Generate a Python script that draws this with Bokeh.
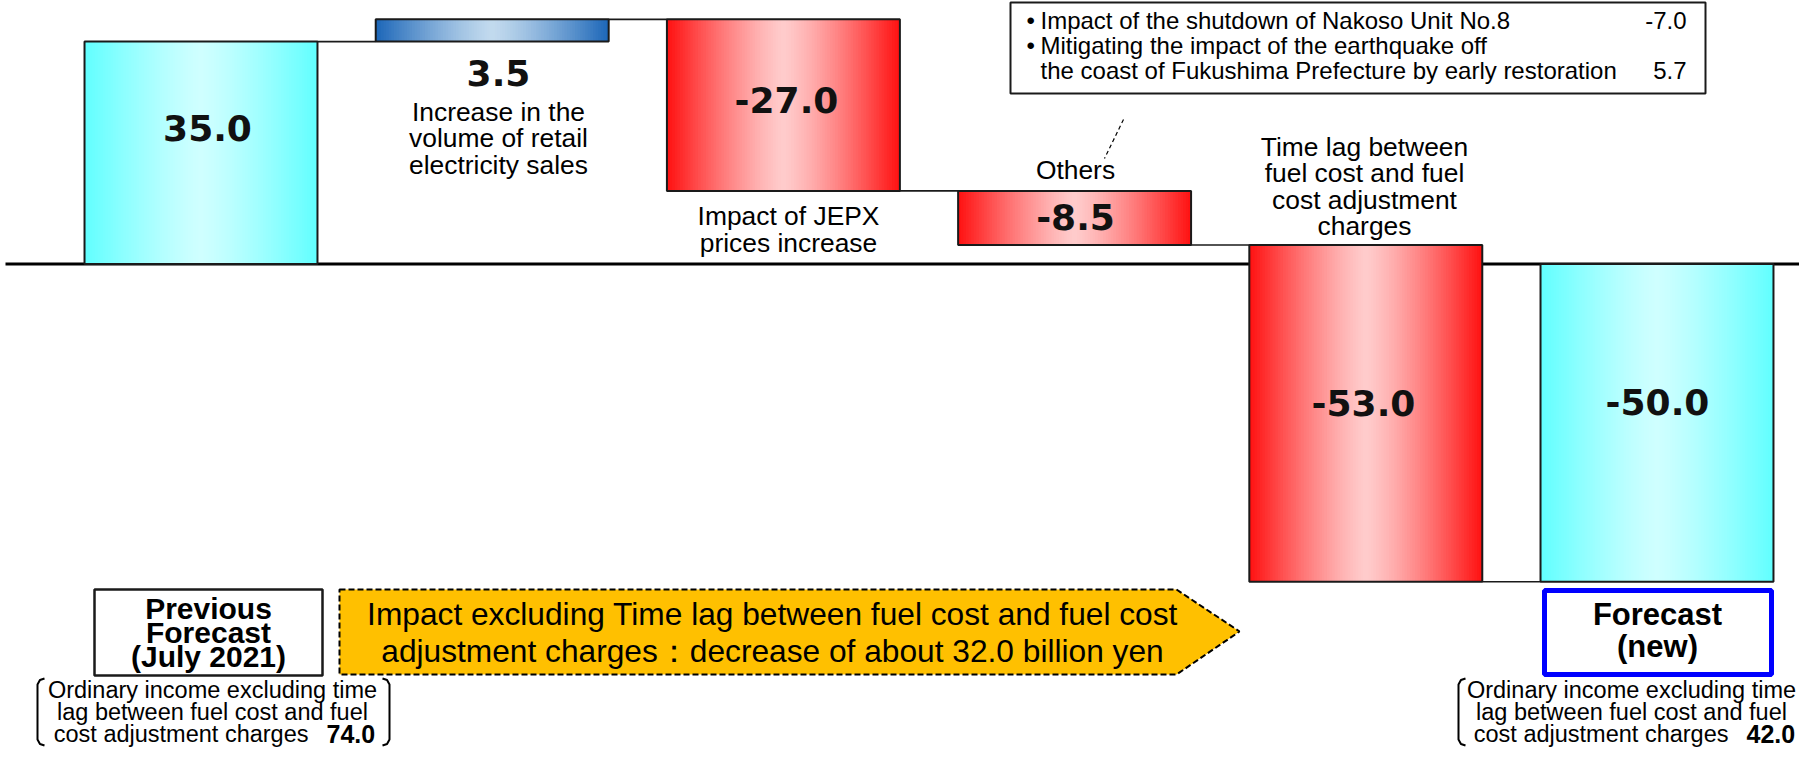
import numpy as np
from bokeh.plotting import figure
from bokeh.models import Range1d
from bokeh.core.properties import value
from bokeh.embed import file_html
from bokeh.resources import INLINE

# ---------------- data ----------------
categories = [
    "Previous Forecast (July 2021)",
    "Increase in the volume of retail electricity sales",
    "Impact of JEPX prices increase",
    "Others",
    "Time lag between fuel cost and fuel cost adjustment charges",
    "Forecast (new)",
]
bar_kinds = ["total", "delta", "delta", "delta", "delta", "total"]
bar_values = [35.0, 3.5, -27.0, -8.5, -53.0, -50.0]
value_texts = ["35.0", "3.5", "-27.0", "-8.5", "-53.0", "-50.0"]
category_texts = [
    "",
    "Increase in the\nvolume of retail\nelectricity sales",
    "Impact of JEPX\nprices increase",
    "Others",
    "Time lag between\nfuel cost and fuel\ncost adjustment\ncharges",
    "",
]
others_items = [
    "Impact of the shutdown of Nakoso Unit No.8",
    "Mitigating the impact of the earthquake off",
    "the coast of Fukushima Prefecture by early restoration",
]
others_bullets = ["\u2022", "\u2022"]
others_values = ["-7.0", "5.7"]
box_titles = ["Previous\nForecast\n(July 2021)", "Forecast\n(new)"]
excl_lines = ["Ordinary income excluding time", "lag between fuel cost and fuel", "cost adjustment charges"]
excl_values = ["74.0", "42.0"]
arrow_text = ("Impact excluding Time lag between fuel cost and fuel cost\n"
              "adjustment charges\uff1adecrease of about 32.0 billion yen")

# ---------------- layout ----------------
W, H = 1799, 749
PXU, X0 = 291.2, 200.5     # screen px per category step, screen x of category 0
PYU, Y0 = 6.355, 263.5     # screen px per billion yen, screen y of zero


def dx(px):
    return (px - X0) / PXU


def dy(py):
    return (Y0 - py) / PYU


p = figure(width=W, height=H,
           x_range=Range1d(dx(0), dx(W)), y_range=Range1d(dy(H), dy(0)),
           output_backend="svg", toolbar_location=None, min_border=0)
p.axis.visible = False
p.grid.visible = False
p.outline_line_color = None
p.background_fill_color = "white"
p.border_fill_color = "white"

SANS = "Liberation Sans"
NUMF = "DejaVu Sans"


def txt(xs, ys, texts, size, bold=False, align="center", font=SANS, lh=1.0, color="#000000"):
    p.text(x=xs, y=ys, text=texts, text_font=value(font), text_font_size=f"{size}px",
           text_font_style="bold" if bold else "normal", text_align=align,
           text_baseline="middle", text_line_height=lh, text_color=color)


# waterfall geometry from the data
bottoms, tops, ends = [], [], []
run = 0.0
for k, v in zip(bar_kinds, bar_values):
    if k == "total":
        b, t = min(0.0, v), max(0.0, v)
        run = v
    else:
        start = run
        run = run + v
        b, t = min(start, run), max(start, run)
    bottoms.append(b)
    tops.append(t)
    ends.append(run)

BW = 0.8
N = 90


def grad(edge, peak, n, peak_pos=0.5, power=1.25):
    cols = []
    for j in range(n):
        t = (j + 0.5) / n
        d = abs(t - peak_pos) / max(peak_pos, 1 - peak_pos)
        f = d ** power
        c = [int(round(pk + (ed - pk) * f)) for ed, pk in zip(edge, peak)]
        cols.append("#%02x%02x%02x" % tuple(c))
    return cols


CYAN = ((0x60, 0xFF, 0xFF), (0xCF, 0xFF, 0xFF))
RED = ((0xFF, 0x10, 0x10), (0xFF, 0xCC, 0xCC))
BLUE = ((0x1C, 0x66, 0xB8), (0xC2, 0xDA, 0xEE))

# zero line
p.line(x=[dx(5), dx(W)], y=[0, 0], line_width=3, line_color="#000000")

# connectors
for i in range(len(bar_values) - 1):
    p.segment(x0=[i + BW / 2], y0=[ends[i]], x1=[i + 1 - BW / 2], y1=[ends[i]],
              line_width=1.6, line_color="#1a1a1a")

# gradient bars
for i, (k, v) in enumerate(zip(bar_kinds, bar_values)):
    if k == "total":
        edge, peak = CYAN
    elif v > 0:
        edge, peak = BLUE
    else:
        edge, peak = RED
    cols = grad(edge, peak, N)
    sw = BW / N
    lefts = [i - BW / 2 + j * sw for j in range(N)]
    rights = [l + sw * 1.6 if j < N - 1 else l + sw for j, l in enumerate(lefts)]
    p.quad(left=lefts, right=rights, bottom=[bottoms[i]] * N, top=[tops[i]] * N,
           fill_color=cols, line_color=None)
    p.quad(left=[i - BW / 2], right=[i + BW / 2], bottom=[bottoms[i]], top=[tops[i]],
           fill_color=None, line_color="#1a1a1a", line_width=2)

# value labels
val_px = [(207, 127), (498, 72), (786, 99), (1075, 216), (1363, 402), (1657, 401)]
txt([dx(a) for a, b in val_px], [dy(b) for a, b in val_px], value_texts, 36, bold=True, font=NUMF,
    color="#111111")

# category labels
cat_px = [None, (498, 138), (788, 229), (1075, 169), (1364, 186), None]
cx, cy, ct = [], [], []
for pos, t in zip(cat_px, category_texts):
    if pos is not None and t:
        cx.append(dx(pos[0]))
        cy.append(dy(pos[1]))
        ct.append(t)
txt(cx, cy, ct, 26.4, lh=0.87)

# "Others" breakdown call-out
p.quad(left=[dx(1010)], right=[dx(1705)], top=[dy(2)], bottom=[dy(93)],
       fill_color="white", line_color="#1a1a1a", line_width=2)
oy = [dy(20), dy(45), dy(70)]
txt([dx(1026)] * 2, oy[:2], others_bullets, 24, align="left")
txt([dx(1040)] * 3, oy, others_items, 24, align="left")
txt([dx(1686)] * 2, [oy[0], oy[2]], others_values, 24, align="right")
p.line(x=[dx(1123), dx(1104)], y=[dy(119), dy(158)], line_width=1.2,
       line_color="#000000", line_dash="4 3")

# bottom boxes
p.quad(left=[dx(94)], right=[dx(322)], top=[dy(589)], bottom=[dy(675)],
       fill_color="white", line_color="#1a1a1a", line_width=2.5)
txt([dx(208)], [dy(632)], [box_titles[0]], 30, bold=True, lh=0.73)
p.quad(left=[dx(1544)], right=[dx(1771)], top=[dy(590)], bottom=[dy(674)],
       fill_color="white", line_color="#0000FF", line_width=5)
txt([dx(1657)], [dy(630)], [box_titles[1]], 31, bold=True, lh=0.94)

# arrow
ax = [339, 1176, 1239, 1176, 339]
ay = [589, 589, 631, 674, 674]
p.patch(x=[dx(a) for a in ax], y=[dy(b) for b in ay], fill_color="#FFC000",
        line_color="#000000", line_width=2, line_dash="6 3")
txt([dx(772)], [dy(632)], [arrow_text], 31.7, lh=1.04)

# bracketed notes (squeezed slightly to stay inside the canvas)
ly = [dy(689), dy(711), dy(733)]


def bracket(xb, hook):
    top, bot = 678, 745
    xs = [xb + hook, xb + hook * 0.35, xb, xb, xb + hook * 0.35, xb + hook]
    ys = [top, top + 1.5, top + 6, bot - 6, bot - 1.5, bot]
    p.line(x=[dx(a) for a in xs], y=[dy(b) for b in ys], line_width=2, line_color="#000000")


bracket(37, 7)
bracket(389, -7)
txt([dx(212)] * 2, ly[:2], excl_lines[:2], 23.5)
txt([dx(308)], [ly[2]], [excl_lines[2]], 23.5, align="right")
txt([dx(326)], [ly[2]], [excl_values[0]], 25, bold=True, align="left")

bracket(1458, 7)
txt([dx(1631)] * 2, ly[:2], excl_lines[:2], 23.5)
txt([dx(1728)], [ly[2]], [excl_lines[2]], 23.5, align="right")
txt([dx(1746)], [ly[2]], [excl_values[1]], 25, bold=True, align="left")

open("out.html", "w").write(file_html(p, INLINE))
